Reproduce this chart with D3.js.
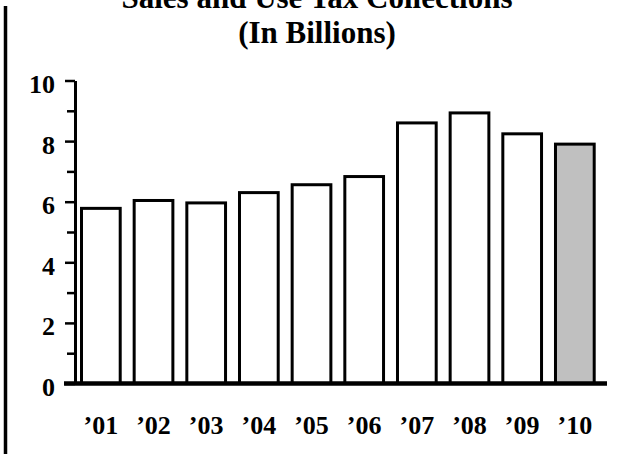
<!DOCTYPE html>
<html>
<head>
<meta charset="utf-8">
<script src="https://cdn.jsdelivr.net/npm/d3@7"></script>
<style>
  body { margin: 0; background: #fff; }
  text { font-family: "Liberation Serif", "Times New Roman", serif; font-weight: bold; fill: #000; }
</style>
</head>
<body>
<div id="chart"></div>
<script>
var years = ["’01", "’02", "’03", "’04", "’05", "’06", "’07", "’08", "’09", "’10"];
var collections = [5.78, 6.04, 5.96, 6.30, 6.56, 6.83, 8.60, 8.93, 8.24, 7.90];
var majorTicks = [0, 2, 4, 6, 8, 10];
var minorTicks = [1, 3, 5, 7, 9];
var titleLines = ["Sales and Use Tax Collections", "(In Billions)"];

var svgWidth = 637;
var svgHeight = 454;

var svg = d3.select("#chart")
    .append("svg")
    .attr("width", svgWidth)
    .attr("height", svgHeight);

// scales
var xScale = d3.scaleBand()
    .domain(years)
    .range([81.5, 594.2])
    .paddingInner(0.265)
    .paddingOuter(0);

var yScale = d3.scaleLinear()
    .domain([0, 10])
    .range([383.5, 80.5]);

// left rule down the page
svg.append("line")
    .attr("x1", 5.5).attr("x2", 5.5)
    .attr("y1", 6).attr("y2", svgHeight)
    .attr("stroke", "#000")
    .attr("stroke-width", 3.5);

// title
svg.append("text")
    .attr("x", 317)
    .attr("text-anchor", "middle")
    .attr("font-size", 31)
    .selectAll("tspan")
    .data(titleLines)
    .enter()
    .append("tspan")
    .attr("x", 317)
    .attr("y", (d, i) => 8 + i * 35)
    .text(d => d);

// bars
svg.selectAll("rect.bar")
    .data(collections)
    .enter()
    .append("rect")
    .attr("class", "bar")
    .attr("x", (d, i) => xScale(years[i]))
    .attr("y", d => yScale(d))
    .attr("width", xScale.bandwidth())
    .attr("height", d => yScale(0) - yScale(d))
    .attr("fill", (d, i) => i === years.length - 1 ? "#c0c0c0" : "#fff")
    .attr("stroke", "#000")
    .attr("stroke-width", 3);

// y axis with major labels
var leftAxis = d3.axisLeft(yScale)
    .tickValues(majorTicks)
    .tickSize(10)
    .tickPadding(10)
    .tickSizeOuter(0);

var yAxis = svg.append("g")
    .attr("transform", "translate(75, 0)")
    .call(leftAxis);

yAxis.select(".domain")
    .attr("stroke-width", 3);
yAxis.selectAll(".tick line")
    .attr("stroke-width", 2.5);
yAxis.selectAll(".tick text")
    .attr("font-size", 26)
    .attr("font-family", null)
    .attr("dy", "0.46em");

// minor ticks
var minorAxis = d3.axisLeft(yScale)
    .tickValues(minorTicks)
    .tickSize(8)
    .tickFormat("");

svg.append("g")
    .attr("transform", "translate(75, 0)")
    .call(minorAxis)
    .call(g => g.select(".domain").remove())
    .selectAll(".tick line")
    .attr("stroke-width", 2.5);

// thick baseline
svg.append("line")
    .attr("x1", 64).attr("x2", 607)
    .attr("y1", yScale(0)).attr("y2", yScale(0))
    .attr("stroke", "#000")
    .attr("stroke-width", 4.5);

// x axis labels
var bottomAxis = d3.axisBottom(xScale)
    .tickSize(0)
    .tickPadding(32.5);

svg.append("g")
    .attr("transform", `translate(0, ${yScale(0)})`)
    .call(bottomAxis)
    .call(g => g.select(".domain").remove())
    .selectAll("text")
    .attr("font-size", 26)
    .attr("font-family", null);
</script>
</body>
</html>
